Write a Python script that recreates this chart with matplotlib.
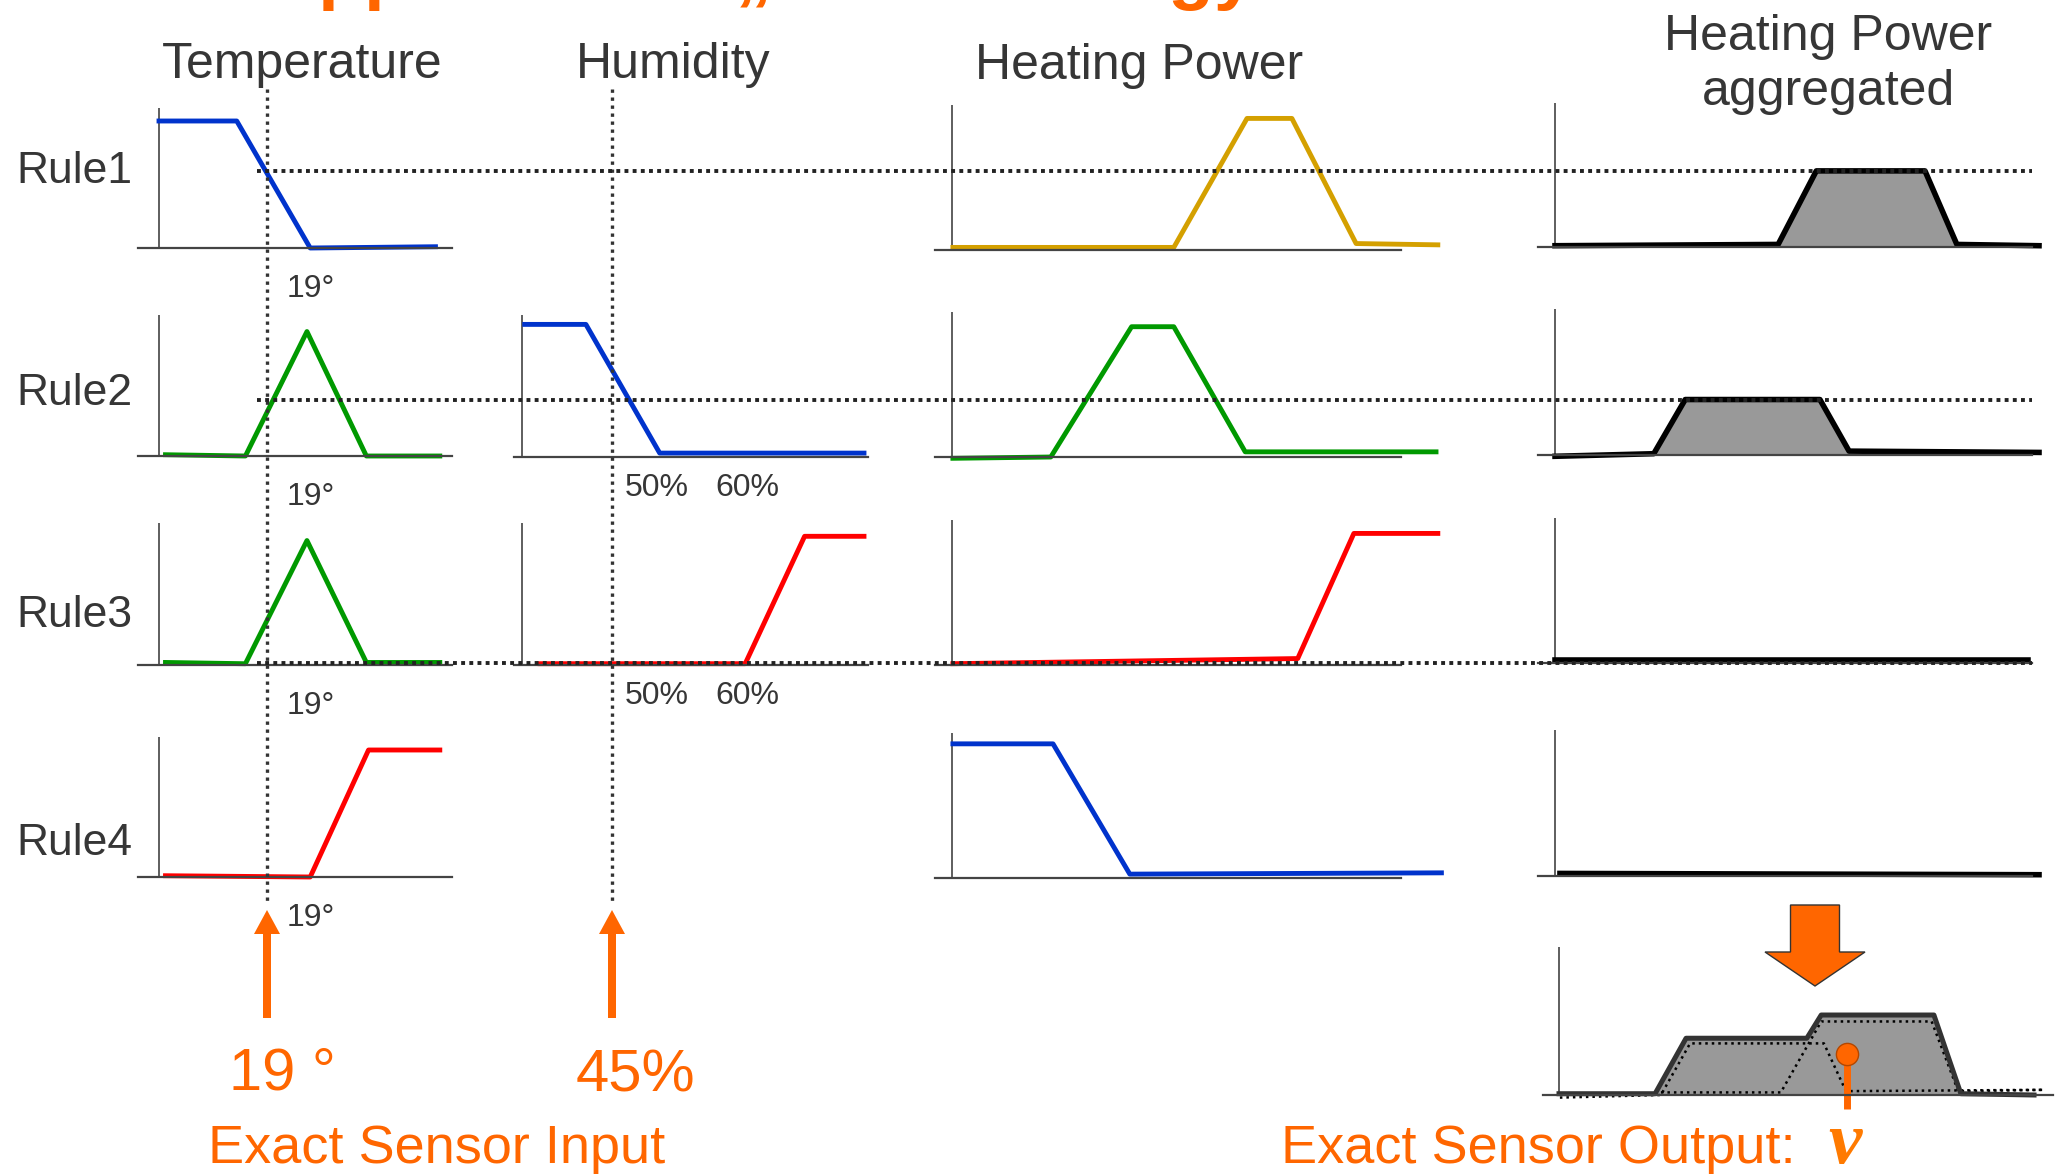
import numpy as np
import matplotlib
matplotlib.use("Agg")
import matplotlib.pyplot as plt
from matplotlib.patches import FancyArrow

W, H = 2056, 1176
plt.rcParams["font.family"] = ["Liberation Sans", "DejaVu Sans"]

ORANGE = "#ff6600"
TXT = "#363636"

# ---------------- data ----------------
rule_labels = ["Rule1", "Rule2", "Rule3", "Rule4"]
column_titles = ["Temperature", "Humidity", "Heating Power", "Heating Power\naggregated"]
title = "Applications \u201eRule Strategy\u201c"
temp_input = 19      # degC
hum_input = 45       # %
hum_ticks = [50, 60]

# temperature membership functions (degC, membership)
temp_x = [
    [14.0, 17.6, 21.0, 26.8],
    [14.3, 18.0, 20.85, 23.6, 27.0],
    [14.3, 18.0, 20.85, 23.6, 27.0],
    [14.3, 21.0, 23.7, 27.0],
]
temp_mu = [
    [1.0, 1.0, 0.0, 0.01],
    [0.01, 0.0, 0.98, 0.0, 0.0],
    [0.02, 0.01, 0.98, 0.02, 0.02],
    [0.01, 0.0, 1.0, 1.0],
]
temp_colors = ["#0033cc", "#009900", "#009900", "#ff0000"]

# humidity membership functions (only rules 2 and 3)
hum_x = [None, [35.3, 42.1, 50.3, 73.0], [37.0, 59.8, 66.4, 73.0], None]
hum_mu = [None, [1.02, 1.02, 0.03, 0.03], [0.01, 0.01, 0.99, 0.99], None]
hum_colors = [None, "#0033cc", "#ff0000", None]

# heating power output sets (0..100 power units)
power_x = [
    [0.2, 49.4, 65.7, 75.7, 90.0, 108.2],
    [0.2, 22.0, 40.0, 49.4, 65.3, 107.8],
    [0.2, 77.0, 89.5, 108.2],
    [0.2, 22.5, 39.6, 109.0],
]
power_mu = [
    [0.02, 0.02, 1.02, 1.02, 0.05, 0.04],
    [-0.01, 0.0, 1.01, 1.01, 0.04, 0.04],
    [0.01, 0.05, 1.02, 1.02],
    [1.04, 1.04, 0.03, 0.04],
]
power_colors = ["#d4a000", "#009900", "#ff0000", "#0033cc"]

# clipped (implication) sets per rule
agg_x = [
    [0.0, 49.7, 58.2, 82.4, 89.5, 107.8],
    [0.0, 22.0, 29.0, 59.0, 65.5, 107.8],
    [0.0, 105.3],
    [1.1, 107.8],
]
agg_mu = [
    [0.01, 0.02, 0.59, 0.59, 0.02, 0.01],
    [-0.01, 0.01, 0.43, 0.43, 0.03, 0.02],
    [0.02, 0.02],
    [0.02, 0.01],
]
rule_alpha = [0.59, 0.43, 0.0]   # firing strengths drawn as dotted lines

# final aggregated set
final_x = [0.0, 21.4, 28.3, 55.2, 58.4, 83.5, 89.5, 105.8]
final_mu = [0.01, 0.01, 0.44, 0.44, 0.62, 0.62, 0.01, 0.0]
final_r1_x = [22.7, 49.4, 58.4, 83.0, 88.9, 108.0]
final_r1_mu = [0.02, 0.02, 0.57, 0.57, 0.03, 0.04]
final_r2_x = [0.2, 22.7, 29.2, 59.0, 63.9, 108.0]
final_r2_mu = [-0.02, 0.0, 0.40, 0.40, 0.03, 0.04]
centroid_x, centroid_mu = 64.1, 0.32

# ---------------- layout (pixels) ----------------
temp_base = [248, 456, 665, 877]
temp_top = [108, 315, 523, 737]
hum_base = [None, 457, 665, None]
hum_top = [None, 315, 523, None]
power_base = [250, 457, 665, 878]
power_top = [105, 312, 520, 733]
agg_base = [247, 455, 663, 876]
agg_top = [103, 309, 518, 730]
label_baseline = [183, 405, 627, 855]

fig = plt.figure(figsize=(W / 100, H / 100), dpi=100)


def panel(left, right, base, top, yaxis_px, yaxis_val, ppu, unit_px):
    ax = fig.add_axes([left / W, (H - base) / H, (right - left) / W, (base - top) / H])
    ax.set_xlim(yaxis_val - (yaxis_px - left) / ppu, yaxis_val + (right - yaxis_px) / ppu)
    ax.set_ylim(0, (base - top) / unit_px)
    for s in ["top", "right", "left"]:
        ax.spines[s].set_visible(False)
    ax.spines["bottom"].set_color("#444444")
    ax.spines["bottom"].set_linewidth(1.6)
    ax.set_xticks([])
    ax.set_yticks([])
    ax.axvline(yaxis_val, color="#333333", lw=1.1)
    ax.patch.set_visible(False)
    return ax


temp_axes, hum_axes, agg_axes = [], [], []
for i in range(4):
    ax = panel(138, 452, temp_base[i], temp_top[i], 159, 14, 21.6, 127)
    ax.plot(temp_x[i], temp_mu[i], color=temp_colors[i], lw=3.5, clip_on=False)
    ax.annotate("19°", xy=(temp_input, 0), xytext=(44, -49), textcoords="offset pixels",
                ha="center", va="baseline", fontsize=23, color=TXT)
    temp_axes.append(ax)

    if hum_x[i] is not None:
        ax = panel(514, 868, hum_base[i], hum_top[i], 522, 35, 9.0, 130)
        ax.plot(hum_x[i], hum_mu[i], color=hum_colors[i], lw=3.5, clip_on=False)
        for t in hum_ticks:
            ax.annotate(f"{t}%", xy=(t, 0), xytext=(0, -39), textcoords="offset pixels",
                        ha="center", va="baseline", fontsize=23, color=TXT)
    hum_axes.append(ax if hum_x[i] is not None else None)

    ax = panel(935, 1401, power_base[i], power_top[i], 952, 0, 4.49, 129)
    ax.plot(power_x[i], power_mu[i], color=power_colors[i], lw=3.5, clip_on=False)

    ax = panel(1538, 2032, agg_base[i], agg_top[i], 1555, 0, 4.49, 129)
    if len(agg_x[i]) > 2:
        ax.fill_between(agg_x[i][1:5], agg_mu[i][1:5], 0, color="#999999", lw=0)
    ax.plot(agg_x[i], agg_mu[i], color="black", lw=4.0, clip_on=False)
    agg_axes.append(ax)

# final aggregated output
fax = panel(1543, 2053, 1095, 947, 1559, 0, 4.49, 129)
fax.fill_between(final_x, final_mu, 0, color="#999999", lw=0)
fax.plot(final_r2_x, final_r2_mu, color="black", lw=1.8, ls=(0, (1, 1.6)), clip_on=False)
fax.plot(final_r1_x, final_r1_mu, color="black", lw=1.8, ls=(0, (1, 1.6)), clip_on=False)
fax.plot(final_x, final_mu, color="#333333", lw=3.6, clip_on=False)
fax.plot([centroid_x, centroid_x], [centroid_mu, -0.11], color=ORANGE, lw=5,
         solid_capstyle="butt", clip_on=False)
fax.plot(centroid_x, centroid_mu, "o", ms=16, color=ORANGE, mec="#b34700", mew=1,
         clip_on=False)

# ---------------- overlay (pixel coordinates, y downward) ----------------
ov = fig.add_axes([0, 0, 1, 1])
ov.set_xlim(0, W)
ov.set_ylim(H, 0)
ov.axis("off")
ov.patch.set_visible(False)


def to_px(ax, x, y):
    return ov.transData.inverted().transform(ax.transData.transform((x, y)))


x_t = to_px(temp_axes[0], temp_input, 0)[0]
x_h = to_px(hum_axes[1], hum_input, 0)[0]
dot_v = dict(color="#333333", lw=2.4, ls=(0, (1, 1.4)))
ov.plot([x_t, x_t], [89, 905], **dot_v)
ov.plot([x_h, x_h], [89, 905], **dot_v)
for i, a in enumerate(rule_alpha):
    y = to_px(agg_axes[i], 0, a)[1]
    ov.plot([x_t - 10, 2032], [y, y], color="#222222", lw=2.8, ls=(0, (1, 1.1)))

# input arrows
for x in (x_t, x_h):
    ov.add_patch(FancyArrow(x, 1018, 0, -108, width=8, head_width=26, head_length=24,
                            length_includes_head=True, color=ORANGE, lw=0))
# aggregation arrow
ov.add_patch(FancyArrow(1815, 905, 0, 81, width=49, head_width=100, head_length=34,
                        length_includes_head=True, fc=ORANGE, ec="#333333", lw=1.0))

# texts
ov.text(264, -4, title, color=ORANGE, fontsize=54, fontweight="bold",
        ha="left", va="baseline")
ov.text(302, 78, column_titles[0], ha="center", va="baseline", fontsize=36, color=TXT)
ov.text(673, 78, column_titles[1], ha="center", va="baseline", fontsize=36, color=TXT)
ov.text(1139, 79, column_titles[2], ha="center", va="baseline", fontsize=36, color=TXT)
ov.text(1828, 105, column_titles[3], ha="center", va="baseline", fontsize=36, color=TXT,
        linespacing=1.25, multialignment="center")
for lab, yb in zip(rule_labels, label_baseline):
    ov.text(132, yb, lab, ha="right", va="baseline", fontsize=32, color=TXT)

ov.text(282, 1090, f"{temp_input} °", ha="center", va="baseline", fontsize=43, color=ORANGE)
ov.text(635, 1092, f"{hum_input}%", ha="center", va="baseline", fontsize=43, color=ORANGE)
ov.text(437, 1163, "Exact Sensor Input", ha="center", va="baseline", fontsize=39,
        color=ORANGE)
ov.text(1281, 1163, "Exact Sensor Output:", ha="left", va="baseline", fontsize=39,
        color=ORANGE)
ov.text(1828, 1163, "\u03bd", ha="left", va="baseline", fontsize=54, color="#ff7a00",
        family=["Liberation Serif", "DejaVu Serif"], fontweight="bold", fontstyle="italic")

fig.savefig("out.png", dpi=100)
